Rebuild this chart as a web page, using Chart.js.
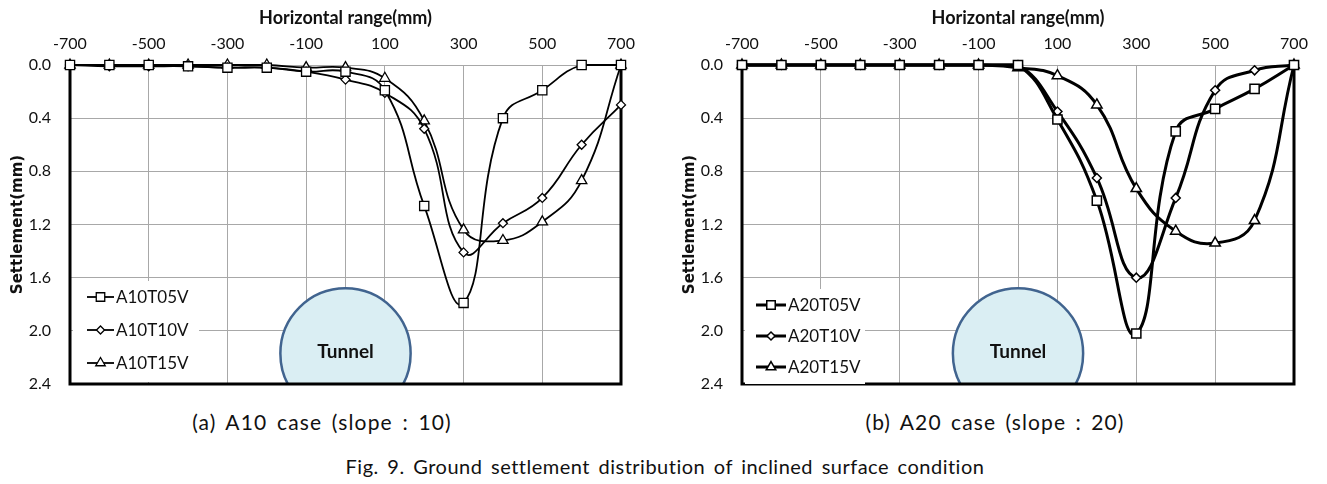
<!DOCTYPE html>
<html>
<head>
<meta charset="utf-8">
<script src="https://cdn.jsdelivr.net/npm/chart.js@4.4.1/dist/chart.umd.min.js"></script>
<style>
  body { margin: 0; background: #fff; width: 1327px; height: 484px; position: relative; overflow: hidden; }
  canvas { position: absolute; top: 0; }
  #chartA { left: 0; }
  #chartB { left: 672px; }
  .cap { position: absolute; white-space: nowrap; color: #111; transform: translate(-50%, -50%);
         font-family: Lato, 'Liberation Sans', sans-serif; word-spacing: 3px; }
  #capA { left: 322px; top: 421px; font-size: 21px; }
  #capB { left: 995px; top: 421px; font-size: 21px; }
  #capFig { left: 665px; top: 466px; font-size: 20px; }
</style>
</head>
<body>
<canvas id="chartA" width="660" height="400"></canvas>
<canvas id="chartB" width="655" height="400"></canvas>
<div class="cap" id="capA">(a) A10 case (slope : 10)</div>
<div class="cap" id="capB">(b) A20 case (slope : 20)</div>
<div class="cap" id="capFig">Fig. 9. Ground settlement distribution of inclined surface condition</div>

<script>
// Eixos
const xValues = [-700, -600, -500, -400, -300, -200, -100, 0, 100, 200, 300, 400, 500, 600, 700];
const xTicks = [-700, -500, -300, -100, 0, 100, 300, 500, 700];
const yTicks = [0, 0.4, 0.8, 1.2, 1.6, 2.0, 2.4];

// Caso A10 (slope 10)
const a10Labels = ['A10T05V', 'A10T10V', 'A10T15V'];
const a10T05V = [0, 0, 0, 0.01, 0.02, 0.02, 0.05, 0.05, 0.19, 1.06, 1.79, 0.4, 0.19, 0, 0];
const a10T10V = [0, 0.01, 0.01, 0.01, 0.02, 0.02, 0.05, 0.11, 0.21, 0.48, 1.41, 1.19, 1.0, 0.6, 0.3];
const a10T15V = [0, 0, 0, 0, 0, 0, 0.02, 0.02, 0.1, 0.42, 1.24, 1.32, 1.18, 0.87, 0];

// Caso A20 (slope 20)
const a20Labels = ['A20T05V', 'A20T10V', 'A20T15V'];
const a20T05V = [0, 0, 0, 0, 0, 0, 0, 0, 0.41, 1.02, 2.02, 0.5, 0.33, 0.18, 0];
const a20T10V = [0, 0, 0, 0, 0, 0, 0, 0, 0.35, 0.85, 1.6, 1.0, 0.19, 0.04, 0];
const a20T15V = [0, 0, 0, 0, 0, 0, 0, 0.02, 0.08, 0.3, 0.93, 1.25, 1.34, 1.17, 0];

// Tunel (x central, topo e centro do arco em mm de recalque)
const tunnelX = 0;
const tunnelTop = 1.68;
const tunnelCenterY = 2.17;

const markerStyles = ['rect', 'rectRot', 'triangle'];
const markerSizes = [6.5, 4.5, 6];

const sans = "Lato, 'Liberation Sans', sans-serif";
const gridColor = '#a8a8a8';

/**
 * Plugin: tunel, moldura e legenda dentro da area do grafico
 */
function makeDecor(labels, lineWidth, markerBorder, lg) {
  return {
    id: 'decor',
    beforeDatasetsDraw(chart) {
      const { ctx, chartArea: a, scales: { x, y } } = chart;
      // Tunel
      const cx = x.getPixelForValue(tunnelX);
      const cy = y.getPixelForValue(tunnelCenterY);
      const r = cy - y.getPixelForValue(tunnelTop);
      ctx.save();
      ctx.beginPath();
      ctx.rect(a.left, a.top, a.right - a.left, a.bottom - a.top);
      ctx.clip();
      ctx.beginPath();
      ctx.arc(cx, cy, r, 0, Math.PI * 2);
      ctx.fillStyle = '#daeef3';
      ctx.fill();
      ctx.lineWidth = 2.5;
      ctx.strokeStyle = '#41648f';
      ctx.stroke();
      ctx.restore();
      ctx.save();
      ctx.font = "bold 19px " + sans;
      ctx.fillStyle = '#111';
      ctx.textAlign = 'center';
      ctx.textBaseline = 'middle';
      ctx.fillText('Tunnel', cx, cy - 2);
      ctx.restore();

      // Moldura preta (esquerda, direita, base)
      ctx.save();
      ctx.strokeStyle = '#000';
      ctx.lineWidth = 3;
      ctx.beginPath();
      ctx.moveTo(a.left, a.top + 2);
      ctx.lineTo(a.left, a.bottom);
      ctx.lineTo(a.right, a.bottom);
      ctx.lineTo(a.right, a.top + 2);
      ctx.stroke();
      ctx.restore();
    },
    afterDatasetsDraw(chart) {
      const { ctx, chartArea: a } = chart;
      ctx.save();
      ctx.fillStyle = '#fff';
      ctx.fillRect(a.left + 3, a.top + lg.top - 16, lg.boxRight - 3, lg.gap * 3 + 2);
      ctx.font = "17px " + sans;
      ctx.textBaseline = 'middle';
      labels.forEach((label, i) => {
        const ly = a.top + lg.top + i * lg.gap;
        const lx = a.left + lg.left;
        ctx.strokeStyle = '#000';
        ctx.lineWidth = lineWidth;
        ctx.beginPath();
        ctx.moveTo(lx, ly);
        ctx.lineTo(lx + lg.len, ly);
        ctx.stroke();
        ctx.fillStyle = '#fff';
        ctx.lineWidth = markerBorder;
        Chart.helpers.drawPoint(ctx, {
          pointStyle: markerStyles[i], radius: markerSizes[i] - 0.5, borderWidth: markerBorder, rotation: 0
        }, lx + lg.len / 2, ly);
        ctx.fillStyle = '#111';
        ctx.fillText(label, lx + lg.len + 2, ly + 1);
      });
      ctx.restore();
    }
  };
}

/**
 * Cria um grafico de recalque
 */
function buildChart(canvasId, labels, series, lineWidth, markerBorder, padRight, lg) {
  const datasets = series.map((values, i) => ({
    label: labels[i],
    data: xValues.map((xv, k) => ({ x: xv, y: values[k] })),
    borderColor: '#000',
    borderWidth: lineWidth,
    pointStyle: markerStyles[i],
    pointRadius: markerSizes[i],
    pointBorderWidth: markerBorder,
    pointBackgroundColor: '#fff',
    pointBorderColor: '#000',
    tension: 0.45,
    fill: false,
    clip: 9
  }));

  return new Chart(document.getElementById(canvasId), {
    type: 'line',
    data: { datasets: datasets },
    options: {
      responsive: false,
      animation: false,
      layout: { padding: { left: 0, right: padRight, top: 0, bottom: 16 } },
      plugins: { legend: { display: false }, tooltip: { enabled: false } },
      scales: {
        x: {
          type: 'linear',
          position: 'top',
          min: -700,
          max: 700,
          afterBuildTicks: s => { s.ticks = xTicks.map(v => ({ value: v })); },
          afterFit: s => { s.height = 65; },
          ticks: {
            autoSkip: false,
            maxRotation: 0,
            padding: 12,
            color: '#111',
            font: { family: sans, size: 16 },
            callback: v => (v === 0 ? '' : String(v))
          },
          grid: { color: gridColor, lineWidth: 1, drawTicks: false },
          border: { display: false },
          title: {
            display: true,
            text: 'Horizontal range(mm)',
            color: '#111',
            font: { family: sans, size: 18, weight: 'bold' },
            padding: { top: 7, bottom: 0 }
          }
        },
        y: {
          type: 'linear',
          reverse: true,
          min: 0,
          max: 2.4,
          afterBuildTicks: s => { s.ticks = yTicks.map(v => ({ value: v })); },
          afterFit: s => { s.width = 70; s.paddingTop = 0; s.paddingBottom = 0; },
          ticks: {
            padding: 19,
            color: '#111',
            font: { family: sans, size: 16 },
            callback: v => Number(v).toFixed(1)
          },
          grid: { color: gridColor, lineWidth: 1, drawTicks: false },
          border: { display: false },
          title: {
            display: true,
            text: 'Settlement(mm)',
            color: '#111',
            font: { family: "'DejaVu Sans', sans-serif", size: 15, weight: 'bold' },
            padding: { top: 9, bottom: 0 }
          }
        }
      }
    },
    plugins: [makeDecor(labels, lineWidth, markerBorder, lg)]
  });
}

buildChart('chartA', a10Labels, [a10T05V, a10T10V, a10T15V], 1.8, 1.3, 39,
  { left: 17, len: 27, top: 232, gap: 33, boxRight: 129 });
buildChart('chartB', a20Labels, [a20T05V, a20T10V, a20T15V], 3, 1.5, 33,
  { left: 14, len: 30, top: 240, gap: 31, boxRight: 123 });

// Ajustar largura das legendas de texto (espacamento entre letras)
function fitCaption(id, targetWidth) {
  const el = document.getElementById(id);
  const chars = el.textContent.length - 1;
  const extra = (targetWidth - el.offsetWidth) / chars;
  el.style.letterSpacing = extra + 'px';
}
fitCaption('capA', 259);
fitCaption('capB', 258);
fitCaption('capFig', 638);
</script>
</body>
</html>
